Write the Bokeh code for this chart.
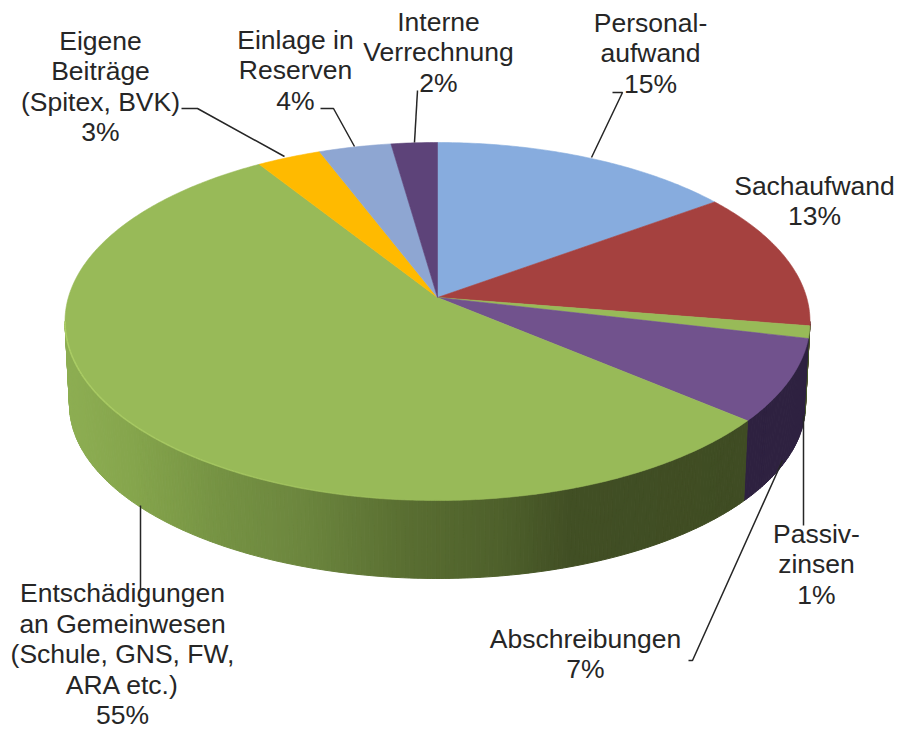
import math
from bokeh.plotting import figure
from bokeh.models import Range1d
from bokeh.core.properties import value
from bokeh.embed import file_html
from bokeh.resources import INLINE

# ---- data ----
categories = ["Personal-\naufwand", "Sachaufwand", "Passiv-\nzinsen", "Abschreibungen",
              "Entschädigungen\nan Gemeinwesen\n(Schule, GNS, FW,\nARA etc.)",
              "Eigene\nBeiträge\n(Spitex, BVK)", "Einlage in\nReserven", "Interne\nVerrechnung"]
percent_labels = [15, 13, 1, 7, 55, 3, 4, 2]
slice_shares = [15.1, 12.4, 1.1, 7.4, 54.9, 3.2, 3.6, 2.3]

# ---- style / layout ----
top_colors = ["#87ACDE", "#A5413F", "#98BA58", "#71528D", "#98BA58", "#FFBA00", "#8EA6D2", "#5D4379"]
label_pos = [(650, 22), (814, 185), (816, 533), (585, 638), (122, 592.5), (100, 40), (295, 39), (438, 21)]
line_h = 30.5
W, H = 899, 730
X0, Y0 = 0, 0
CX, CY, RX, RY = 437.0, 321.0, 372.5, 179.0      # top ellipse
AX, AY = 437.0, 297.0                             # pie apex on top face
BCY, BRX, BRY = 404.0, 368.0, 174.0               # bottom ellipse
K = RY / RX
FONT = "Liberation Sans"
TXT = "#262626"
green_stops = [(64, (0x8D, 0xAE, 0x52)), (130, (0x85, 0xA5, 0x4C)), (220, (0x75, 0x92, 0x43)),
               (300, (0x6C, 0x86, 0x3E)), (400, (0x5A, 0x6F, 0x32)), (500, (0x4E, 0x60, 0x2B)),
               (570, (0x41, 0x4F, 0x24)), (745, (0x3F, 0x4C, 0x23))]


def hexc(c):
    return "#%02X%02X%02X" % tuple(int(round(v)) for v in c)


def shade(x):
    if x <= green_stops[0][0]:
        return green_stops[0][1]
    for (a, ca), (b, cb) in zip(green_stops, green_stops[1:]):
        if x <= b:
            f = (x - a) / (b - a)
            return tuple(p + (q - p) * f for p, q in zip(ca, cb))
    return green_stops[-1][1]


def rim_param(frac):
    """Ellipse parameter of the rim point reached by a slice boundary at this fraction."""
    th = 2 * math.pi * frac
    dx, dy = math.sin(th), K * math.cos(th)      # dy positive = up
    ox, oy = (AX - CX) / RX, (CY - AY) / RY
    ux, uy = dx / RX, dy / RY
    a = ux * ux + uy * uy
    b = 2 * (ox * ux + oy * uy)
    c = ox * ox + oy * oy - 1
    s = (-b + math.sqrt(b * b - 4 * a * c)) / (2 * a)
    return math.atan2(ox + ux * s, oy + uy * s) % (2 * math.pi)


def top_pt(t):
    return CX + RX * math.sin(t), CY - RY * math.cos(t)


def bot_pt(t):
    return CX + BRX * math.sin(t), BCY - BRY * math.cos(t)


p = figure(width=W, height=H, output_backend="svg", toolbar_location=None,
           x_range=Range1d(X0, X0 + W), y_range=Range1d(Y0 + H, Y0),
           min_border=0, outline_line_color=None, background_fill_color="white")
p.axis.visible = False
p.grid.visible = False

total = sum(slice_shares)
cum = [0.0]
for v in slice_shares:
    cum.append(cum[-1] + v / total)
params = [rim_param(c) for c in cum[:-1]] + [rim_param(0.0) + 2 * math.pi]

# side wall: only the slices whose rim faces the viewer
xs, ys, cols = [], [], []
for i in range(len(slice_shares)):
    t1, t2 = params[i], params[i + 1]
    lo, hi = max(t1, math.pi / 2), min(t2, 3 * math.pi / 2)
    if hi <= lo:
        continue
    n = max(2, int((hi - lo) / 0.012))
    for j in range(n):
        a = lo + (hi - lo) * j / n
        b = lo + (hi - lo) * (j + 1) / n
        ta, tb, bb, ba = top_pt(a), top_pt(b), bot_pt(b), bot_pt(a)
        xs.append([ta[0], tb[0], bb[0], ba[0]])
        ys.append([ta[1], tb[1], bb[1], ba[1]])
        if i == 4:
            cols.append(hexc(shade((ta[0] + tb[0]) / 2)))
        elif i == 3:
            cols.append("#2E2140")
        elif i == 2:
            cols.append("#46562A")
        else:
            cols.append("#5A2020")
p.patches(xs, ys, fill_color=cols, line_color=cols, line_width=1)

# top face slices
for i in range(len(slice_shares)):
    t1, t2 = params[i], params[i + 1]
    n = max(3, int((t2 - t1) / 0.01))
    px, py = [AX], [AY]
    for j in range(n + 1):
        x, y = top_pt(t1 + (t2 - t1) * j / n)
        px.append(x)
        py.append(y)
    p.patch(px, py, fill_color=top_colors[i], line_color=top_colors[i], line_width=0.6)

# bevel highlight along the left front rim
hx, hy, ha = [], [], []
t0, t1 = math.radians(184), math.radians(270)
for j in range(80):
    a = t0 + (t1 - t0) * j / 80
    b = t0 + (t1 - t0) * (j + 1) / 80
    pa, pb = top_pt(b), top_pt(a)
    hx.append([pa[0], pb[0]])
    hy.append([pa[1], pb[1]])
    ha.append(0.75 * ((j + 1) / 80) ** 0.5)
p.multi_line(hx, hy, line_color="#B4D66C", line_alpha=ha, line_width=1.6)

# leader lines
leaders = [
    ([612, 622, 591], [92, 92, 157]),
    ([803, 803], [415, 525]),
    ([688, 692, 782], [660, 660, 460]),
    ([140, 140], [505, 590]),
    ([181, 197, 284], [108, 108, 156]),
    ([320, 333, 354], [108, 108, 146]),
    ([417, 414], [90, 142]),
]
for lx, ly in leaders:
    p.line(lx, ly, line_color="#262626", line_width=1.5)

# labels
for name, val, (lx, ly) in zip(categories, percent_labels, label_pos):
    lines = name.split("\n") + [f"{val}%"]
    for k, s in enumerate(lines):
        p.text([lx], [ly + k * line_h], text=[s], text_font=value(FONT), text_font_size="26.5px",
               text_align="center", text_baseline="middle", text_color=TXT)

open("out.html", "w").write(file_html(p, INLINE))
